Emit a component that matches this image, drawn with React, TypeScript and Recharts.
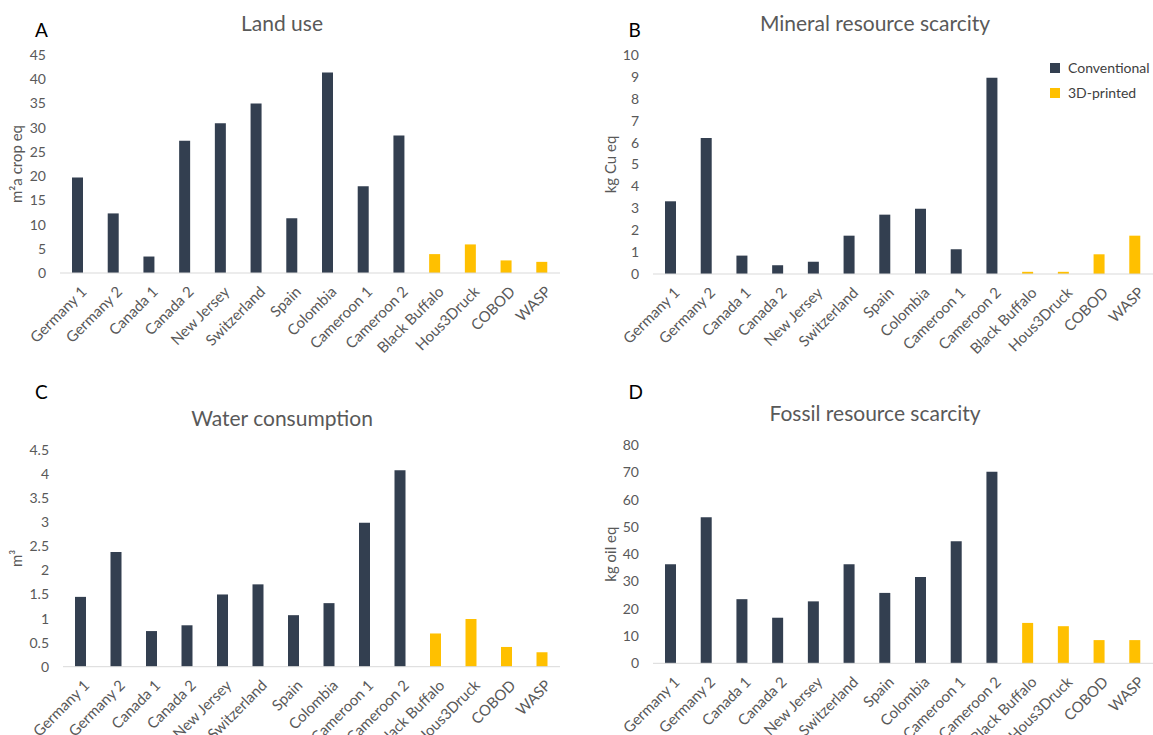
import { Bar, BarChart, Legend, XAxis, YAxis } from "recharts";

const categories = [
  "Germany 1",
  "Germany 2",
  "Canada 1",
  "Canada 2",
  "New Jersey",
  "Switzerland",
  "Spain",
  "Colombia",
  "Cameroon 1",
  "Cameroon 2",
  "Black Buffalo",
  "Hous3Druck",
  "COBOD",
  "WASP",
];
// the first ten houses are conventional builds, the rest are 3D-printed
const conventionalCount = 10;
const seriesOrder = ["Conventional", "3D-printed"];

const landUse = [19.7, 12.3, 3.4, 27.3, 30.9, 35.0, 11.3, 41.4, 17.9, 28.4, 3.9, 5.9, 2.6, 2.3];
const mineralScarcity = [3.32, 6.21, 0.84, 0.4, 0.56, 1.75, 2.71, 2.98, 1.13, 8.96, 0.1, 0.1, 0.9, 1.75];
const waterConsumption = [1.45, 2.38, 0.74, 0.86, 1.5, 1.71, 1.07, 1.32, 2.99, 4.08, 0.69, 0.99, 0.41, 0.3];
const fossilScarcity = [36.3, 53.5, 23.5, 16.7, 22.7, 36.3, 25.8, 31.6, 44.7, 70.2, 14.8, 13.6, 8.5, 8.5];

const landTicks = [0, 5, 10, 15, 20, 25, 30, 35, 40, 45];
const mineralTicks = [0, 1, 2, 3, 4, 5, 6, 7, 8, 9, 10];
const waterTicks = [0, 0.5, 1, 1.5, 2, 2.5, 3, 3.5, 4, 4.5];
const fossilTicks = [0, 10, 20, 30, 40, 50, 60, 70, 80];

const DARK = "#333f50";
const YELLOW = "#ffc000";
const GREY = "#595959";
const FONT = "Lato, 'Open Sans', sans-serif";

const toRows = (values: number[]) =>
  categories.map((name, i) => ({
    name,
    conventional: i < conventionalCount ? values[i] : null,
    printed: i >= conventionalCount ? values[i] : null,
  }));

const CategoryTick = ({ x, y, payload }: any) => (
  <g transform={`translate(${x + 6},${y + 8})`}>
    <text
      transform="rotate(-45)"
      textAnchor="end"
      dy="0.35em"
      fill={GREY}
      fontSize={15}
      fontFamily={FONT}
    >
      {payload.value}
    </text>
  </g>
);

const LegendList = ({ payload }: any) => {
  const items = [...(payload || [])].sort(
    (a: any, b: any) => seriesOrder.indexOf(a.value) - seriesOrder.indexOf(b.value)
  );
  return (
    <div style={{ fontFamily: FONT, fontSize: 14, color: "#404040" }}>
      {items.map((p: any) => (
        <div key={p.value} style={{ display: "flex", alignItems: "center", height: 24.7 }}>
          <span style={{ width: 10, height: 10, background: p.color, marginRight: 8 }} />
          {p.value}
        </div>
      ))}
    </div>
  );
};

interface PanelProps {
  letter: string;
  title: string;
  unit: string;
  values: number[];
  ticks: number[];
  left: number;
  top: number;
  width: number;
  height: number;
  plot: { left: number; right: number; top: number; bottom: number };
  letterAt: [number, number];
  titleAt: [number, number];
  unitX: number;
  withLegend?: boolean;
}

function Panel(p: PanelProps) {
  const { plot } = p;
  return (
    <>
      <div
        style={{
          position: "absolute",
          left: p.letterAt[0],
          top: p.letterAt[1],
          fontFamily: FONT,
          fontSize: 19,
          lineHeight: 1,
          color: "#000",
        }}
      >
        {p.letter}
      </div>
      <div
        style={{
          position: "absolute",
          left: p.titleAt[0],
          top: p.titleAt[1],
          transform: "translate(-50%, -50%)",
          whiteSpace: "nowrap",
          fontFamily: FONT,
          fontSize: 21,
          lineHeight: 1,
          color: GREY,
        }}
      >
        {p.title}
      </div>
      <div style={{ position: "absolute", left: p.left, top: p.top }}>
        <BarChart
          width={p.width}
          height={p.height}
          data={toRows(p.values)}
          barSize={11}
          margin={{
            top: plot.top - p.top,
            right: p.left + p.width - plot.right,
            bottom: 0,
            left: 0,
          }}
        >
          <XAxis
            dataKey="name"
            interval={0}
            height={p.top + p.height - plot.bottom}
            tick={<CategoryTick />}
            tickLine={false}
            axisLine={{ stroke: "#d9d9d9" }}
          />
          <YAxis
            width={plot.left - p.left}
            domain={[p.ticks[0], p.ticks[p.ticks.length - 1]]}
            ticks={p.ticks}
            interval={0}
            tickLine={false}
            axisLine={false}
            tickMargin={8}
            tick={{ fill: GREY, fontSize: 14, fontFamily: FONT }}
            label={{
              value: p.unit,
              angle: -90,
              position: "insideLeft",
              offset: p.unitX,
              style: { textAnchor: "middle", fill: GREY, fontSize: 15, fontFamily: FONT },
            }}
          />
          {p.withLegend && (
            <Legend
              layout="horizontal"
              align="center"
              verticalAlign="middle"
              content={<LegendList />}
              wrapperStyle={{ left: 470, top: 55.5, width: 110 }}
            />
          )}
          <Bar dataKey="conventional" name="Conventional" stackId="house" fill={DARK} isAnimationActive={false} />
          <Bar dataKey="printed" name="3D-printed" stackId="house" fill={YELLOW} isAnimationActive={false} />
        </BarChart>
      </div>
    </>
  );
}

export default function App() {
  return (
    <div
      style={{
        position: "absolute",
        left: 0,
        top: 0,
        width: 1153,
        height: 735,
        overflow: "hidden",
        background: "#fff",
      }}
    >
      <Panel
        letter="A"
        title="Land use"
        unit="m²a crop eq"
        values={landUse}
        ticks={landTicks}
        left={0}
        top={0}
        width={580}
        height={370}
        plot={{ left: 60, right: 560, top: 55, bottom: 273 }}
        letterAt={[35, 20]}
        titleAt={[282, 22]}
        unitX={16.5}
      />
      <Panel
        letter="B"
        title="Mineral resource scarcity"
        unit="kg Cu eq"
        values={mineralScarcity}
        ticks={mineralTicks}
        left={580}
        top={0}
        width={573}
        height={370}
        plot={{ left: 653, right: 1153, top: 55, bottom: 274 }}
        letterAt={[628.5, 20]}
        titleAt={[875, 22]}
        unitX={31}
        withLegend
      />
      <Panel
        letter="C"
        title="Water consumption"
        unit="m³"
        values={waterConsumption}
        ticks={waterTicks}
        left={0}
        top={370}
        width={580}
        height={420}
        plot={{ left: 63, right: 560, top: 450, bottom: 666.7 }}
        letterAt={[35, 382]}
        titleAt={[282, 417]}
        unitX={16.5}
      />
      <Panel
        letter="D"
        title="Fossil resource scarcity"
        unit="kg oil eq"
        values={fossilScarcity}
        ticks={fossilTicks}
        left={580}
        top={370}
        width={573}
        height={420}
        plot={{ left: 653, right: 1153, top: 445, bottom: 663.3 }}
        letterAt={[628.5, 382]}
        titleAt={[875, 412]}
        unitX={31}
      />
    </div>
  );
}
